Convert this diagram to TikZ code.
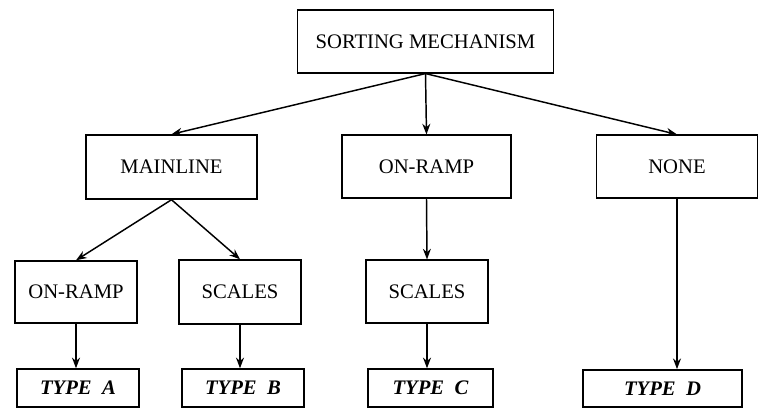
\documentclass[tikz,border=0pt]{standalone}
\usepackage{fontspec}
\setmainfont{Liberation Serif}
\usetikzlibrary{arrows.meta}
\tikzset{
  box/.style={draw, line width=1.1pt, inner sep=0pt, font=\fontsize{15.5}{18}\selectfont},
  typebox/.style={draw, line width=1.1pt, inner sep=0pt, font=\fontsize{15.5}{18}\selectfont\bfseries\itshape},
  link/.style={line width=1.1pt, -{Stealth[length=8pt,width=6pt]}}
}
\begin{document}
\begin{tikzpicture}[x=0.75pt,y=-0.75pt]
                        \useasboundingbox (0,0) rectangle (758,408);
                        \node[box, minimum width=192pt, minimum height=47pt] (sort) at (425.5,41.5) {SORTING MECHANISM};
                        \node[box, minimum width=128pt, minimum height=48pt] (mainline) at (171.5,167) {MAINLINE};
                        \node[box, minimum width=127pt, minimum height=47pt] (ramp) at (426.5,166.5) {ON-RAMP};
                        \node[box, minimum width=121pt, minimum height=47pt] (none) at (677,166.5) {NONE};
                        \node[box, minimum width=91.5pt, minimum height=46.5pt] (rampA) at (76,292) {ON-RAMP};
                        \node[box, minimum width=91.5pt, minimum height=48pt] (scalesB) at (240,292) {SCALES};
                        \node[box, minimum width=91.5pt, minimum height=47pt] (scalesC) at (427,291.5) {SCALES};
                        \node[typebox, minimum width=91.5pt, minimum height=28.5pt] (typeA) at (78,388) {TYPE\ \ A};
                        \node[typebox, minimum width=91.5pt, minimum height=28.5pt] (typeB) at (243,388) {TYPE\ \ B};
                        \node[typebox, minimum width=94pt, minimum height=28.5pt] (typeC) at (430.5,388) {TYPE\ \ C};
                        \node[typebox, minimum width=119pt, minimum height=28pt] (typeD) at (662.5,388.5) {TYPE\ \ D};
                        \draw[link] (sort.south) -- (mainline.north);
                        \draw[link] (sort.south) -- (ramp.north);
                        \draw[link] (sort.south) -- (none.north);
                        \draw[link] (mainline.south) -- (rampA.north);
                        \draw[link] (mainline.south) -- (scalesB.north);
                        \draw[link] (ramp.south) -- (scalesC.north);
                        \draw[link] (rampA.south) -- (typeA.north -| rampA.south);
                        \draw[link] (scalesB.south) -- (typeB.north -| scalesB.south);
                        \draw[link] (scalesC.south) -- (typeC.north -| scalesC.south);
                        \draw[link] (none.south) -- (typeD.north -| none.south);
                    \end{tikzpicture}
\end{document}
